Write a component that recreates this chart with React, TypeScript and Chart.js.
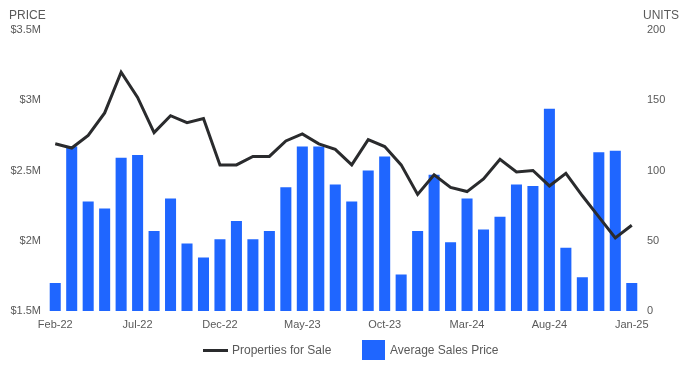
import React, { useEffect, useRef } from "react";
import { Chart, registerables } from "chart.js";

Chart.register(...registerables);

const months = [
  "Feb-22", "Mar-22", "Apr-22", "May-22", "Jun-22", "Jul-22", "Aug-22", "Sep-22", "Oct-22", "Nov-22", "Dec-22", "Jan-23",
  "Feb-23", "Mar-23", "Apr-23", "May-23", "Jun-23", "Jul-23", "Aug-23", "Sep-23", "Oct-23", "Nov-23", "Dec-23", "Jan-24",
  "Feb-24", "Mar-24", "Apr-24", "May-24", "Jun-24", "Jul-24", "Aug-24", "Sep-24", "Oct-24", "Nov-24", "Dec-24", "Jan-25",
];

// Average sales price, in $ millions
const avgSalesPrice = [
  1.70, 2.67, 2.28, 2.23, 2.59, 2.61, 2.07, 2.30, 1.98, 1.88, 2.01, 2.14,
  2.01, 2.07, 2.38, 2.67, 2.67, 2.40, 2.28, 2.50, 2.60, 1.76, 2.07, 2.47,
  1.99, 2.30, 2.08, 2.17, 2.40, 2.39, 2.94, 1.95, 1.74, 2.63, 2.64, 1.70,
];

// Properties for sale, units
const propertiesForSale = [
  119, 116, 125, 141, 170, 152, 127, 139, 134, 137, 104, 104,
  110, 110, 121, 126, 119, 115, 104, 122, 117, 104, 83, 97,
  88, 85, 94, 108, 99, 100, 89, 98, 82, 67, 52, 61,
];

const priceTicks = [1.5, 2, 2.5, 3, 3.5];
const unitTicks = [0, 50, 100, 150, 200];

const LINE_COLOR = "#2a2b2d";
const BAR_COLOR = "#1f66ff";
const TEXT_COLOR = "#595959";
const FONT = "Arial, 'Liberation Sans', sans-serif";

const overlayPlugin = {
  id: "overlay",
  afterDraw(chart: any) {
    const ctx = chart.ctx;
    ctx.save();
    ctx.fillStyle = TEXT_COLOR;
    ctx.font = `12px ${FONT}`;
    ctx.textBaseline = "alphabetic";
    ctx.textAlign = "left";
    ctx.fillText("PRICE", 9, 19);
    ctx.fillText("UNITS", 643, 19);

    // legend
    const ly = 350.5;
    ctx.strokeStyle = LINE_COLOR;
    ctx.lineWidth = 3;
    ctx.beginPath();
    ctx.moveTo(203, ly);
    ctx.lineTo(228, ly);
    ctx.stroke();
    ctx.textBaseline = "middle";
    ctx.fillText("Properties for Sale", 232, ly + 0.5);
    ctx.fillStyle = BAR_COLOR;
    ctx.fillRect(362, 340, 23, 20);
    ctx.fillStyle = TEXT_COLOR;
    ctx.fillText("Average Sales Price", 390, ly + 0.5);
    ctx.restore();
  },
};

export default function App() {
  const ref = useRef<HTMLCanvasElement>(null);
  useEffect(() => {
    if (!ref.current) return;
    const chart = new Chart(ref.current, {
      type: "bar",
      data: {
        labels: months,
        datasets: [
          {
            type: "line",
            label: "Properties for Sale",
            data: propertiesForSale,
            borderColor: LINE_COLOR,
            backgroundColor: LINE_COLOR,
            borderWidth: 3,
            pointRadius: 0,
            tension: 0,
            yAxisID: "yUnits",
            order: 0,
          } as any,
          {
            type: "bar",
            label: "Average Sales Price",
            data: avgSalesPrice,
            backgroundColor: BAR_COLOR,
            barPercentage: 0.67,
            categoryPercentage: 1,
            yAxisID: "yPrice",
            order: 1,
          },
        ],
      },
      options: {
        animation: false,
        responsive: true,
        maintainAspectRatio: false,
        layout: { padding: { top: 30, bottom: 32, left: 0, right: 0 } },
        plugins: { legend: { display: false }, tooltip: { enabled: false } },
        scales: {
          x: {
            grid: { display: false, drawTicks: false },
            border: { display: false },
            ticks: {
              autoSkip: false,
              maxRotation: 0,
              padding: 7,
              color: TEXT_COLOR,
              font: { size: 11, family: FONT },
              callback: (_v: any, i: number) => (i % 5 === 0 ? months[i] : ""),
            },
            afterFit: (s: any) => { s.height = 30; },
          },
          yPrice: {
            position: "left",
            min: priceTicks[0],
            max: priceTicks[priceTicks.length - 1],
            grid: { display: false, drawTicks: false },
            border: { display: false },
            afterBuildTicks: (s: any) => { s.ticks = priceTicks.map((v) => ({ value: v })); },
            ticks: {
              padding: 6,
              color: TEXT_COLOR,
              font: { size: 11, family: FONT },
              callback: (v: any) => `$${v}M`,
            },
            afterFit: (s: any) => { s.width = 47; },
          },
          yUnits: {
            position: "right",
            min: unitTicks[0],
            max: unitTicks[unitTicks.length - 1],
            grid: { display: false, drawTicks: false },
            border: { display: false },
            afterBuildTicks: (s: any) => { s.ticks = unitTicks.map((v) => ({ value: v })); },
            ticks: {
              padding: 7,
              color: TEXT_COLOR,
              font: { size: 11, family: FONT },
            },
            afterFit: (s: any) => { s.width = 55; },
          },
        },
      },
      plugins: [overlayPlugin],
    });
    return () => chart.destroy();
  }, []);
  return (
    <div style={{ position: "fixed", left: 0, top: 0, width: 695, height: 373, background: "#fff" }}>
      <canvas ref={ref} />
    </div>
  );
}
